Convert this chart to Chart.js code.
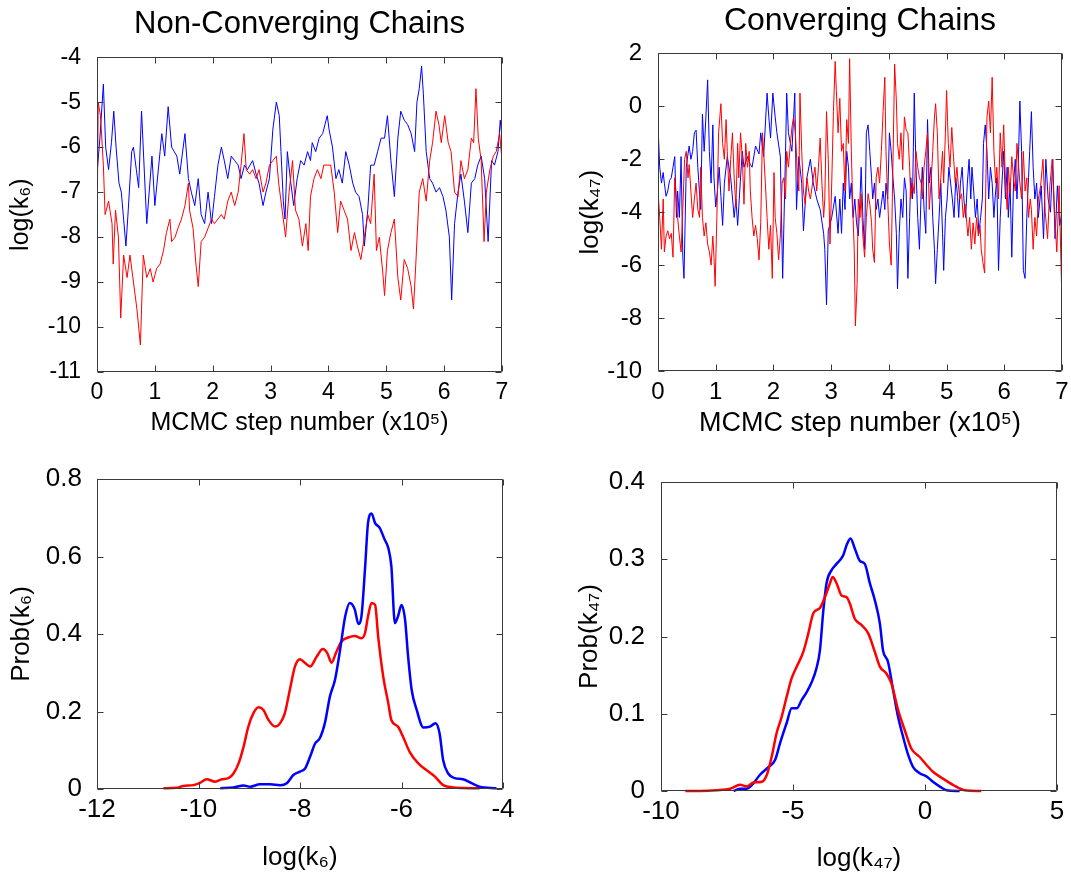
<!DOCTYPE html>
<html>
<head>
<meta charset="utf-8">
<script src="https://cdn.jsdelivr.net/npm/chart.js@4"></script>
<style>
  html, body { margin: 0; padding: 0; background: #fff; }
  #wrap { position: relative; width: 1071px; height: 877px; overflow: hidden; }
  canvas { position: absolute; }
</style>
</head>
<body>
<div id="wrap">
  <canvas id="tl" width="540" height="440" style="left:0;top:0"></canvas>
  <canvas id="tr" width="511" height="440" style="left:560px;top:0"></canvas>
  <canvas id="bl" width="540" height="437" style="left:0;top:440px"></canvas>
  <canvas id="br" width="511" height="437" style="left:560px;top:440px"></canvas>
</div>
<script>
// trace of log(k6), non-converging chains: [step (x1e5), value]
const ncBlue = [[0,-6.6],[0.05,-5.8],[0.11,-4.6],[0.15,-6.0],[0.2,-6.5],[0.25,-5.9],[0.29,-5.2],[0.33,-6.0],[0.38,-6.8],[0.42,-7.0],[0.46,-7.6],[0.5,-8.2],[0.54,-7.4],[0.6,-6.1],[0.63,-6.0],[0.68,-6.5],[0.72,-6.9],[0.77,-5.2],[0.82,-6.6],[0.86,-7.7],[0.95,-6.2],[1.0,-7.3],[1.09,-6.1],[1.12,-5.7],[1.17,-6.2],[1.23,-5.1],[1.29,-6.0],[1.38,-6.2],[1.43,-6.6],[1.52,-5.7],[1.58,-6.7],[1.63,-7.0],[1.69,-7.3],[1.75,-6.7],[1.8,-7.5],[1.86,-7.7],[1.92,-7.0],[1.98,-7.7],[2.03,-7.1],[2.09,-6.4],[2.15,-6.0],[2.2,-6.3],[2.26,-6.7],[2.32,-6.2],[2.38,-6.3],[2.44,-6.4],[2.49,-6.7],[2.55,-6.4],[2.6,-6.5],[2.69,-6.3],[2.75,-6.6],[2.8,-6.8],[2.87,-7.3],[2.92,-7.0],[2.98,-6.7],[3.04,-5.6],[3.1,-5.0],[3.15,-5.3],[3.18,-6.1],[3.22,-7.2],[3.25,-7.6],[3.29,-6.1],[3.35,-6.8],[3.4,-7.3],[3.46,-6.7],[3.52,-6.3],[3.58,-6.4],[3.64,-6.1],[3.69,-6.3],[3.72,-5.9],[3.78,-6.1],[3.84,-5.8],[3.9,-5.7],[3.98,-5.3],[4.01,-5.6],[4.07,-6.0],[4.13,-6.7],[4.18,-6.5],[4.24,-6.8],[4.3,-6.1],[4.36,-6.4],[4.42,-6.8],[4.47,-7.0],[4.53,-7.1],[4.59,-7.5],[4.62,-8.2],[4.68,-7.4],[4.73,-6.4],[4.79,-6.4],[4.85,-6.1],[4.91,-5.8],[4.97,-5.8],[5.02,-5.3],[5.08,-6.3],[5.14,-7.1],[5.2,-5.8],[5.25,-5.2],[5.31,-5.4],[5.37,-5.5],[5.43,-5.7],[5.49,-6.1],[5.53,-5.0],[5.57,-4.7],[5.61,-4.2],[5.64,-4.8],[5.69,-6.1],[5.75,-6.7],[5.8,-6.8],[5.86,-7.0],[5.92,-6.9],[5.98,-7.1],[6.03,-7.4],[6.09,-8.0],[6.13,-9.4],[6.18,-7.7],[6.24,-7.0],[6.29,-6.6],[6.35,-7.2],[6.41,-7.9],[6.47,-6.8],[6.53,-6.7],[6.58,-6.4],[6.64,-6.2],[6.7,-6.7],[6.76,-8.1],[6.82,-6.3],[6.87,-6.4],[6.93,-6.1],[6.97,-5.4],[7.0,-5.8]];
const ncRed = [[0,-8.2],[0.02,-5.0],[0.06,-5.3],[0.11,-6.4],[0.14,-7.5],[0.2,-7.2],[0.26,-7.7],[0.28,-8.6],[0.32,-7.4],[0.37,-8.0],[0.41,-9.8],[0.46,-8.4],[0.52,-8.9],[0.57,-8.4],[0.63,-9.0],[0.69,-9.6],[0.75,-10.4],[0.77,-9.6],[0.8,-8.4],[0.86,-8.9],[0.92,-8.7],[0.97,-9.0],[1.03,-8.7],[1.09,-8.6],[1.15,-8.3],[1.2,-7.9],[1.26,-7.6],[1.29,-8.1],[1.35,-8.0],[1.4,-7.8],[1.46,-7.6],[1.52,-7.3],[1.58,-6.8],[1.6,-7.4],[1.66,-7.8],[1.71,-8.6],[1.75,-9.1],[1.8,-8.1],[1.86,-8.0],[1.92,-7.8],[1.98,-7.6],[2.03,-7.7],[2.09,-7.6],[2.15,-7.5],[2.2,-7.6],[2.26,-7.2],[2.32,-7.0],[2.38,-7.3],[2.44,-7.0],[2.49,-6.4],[2.54,-5.7],[2.58,-6.5],[2.64,-6.6],[2.69,-6.5],[2.75,-6.7],[2.8,-6.5],[2.87,-7.0],[2.92,-6.8],[2.98,-6.4],[3.04,-6.3],[3.1,-6.2],[3.14,-6.8],[3.2,-7.4],[3.26,-8.0],[3.32,-7.0],[3.38,-6.3],[3.43,-7.4],[3.49,-7.6],[3.55,-8.2],[3.61,-7.7],[3.65,-8.3],[3.69,-7.1],[3.75,-6.7],[3.81,-6.5],[3.87,-6.7],[3.92,-6.4],[3.98,-6.4],[4.04,-6.4],[4.1,-7.0],[4.16,-7.9],[4.21,-7.2],[4.27,-7.4],[4.33,-7.6],[4.39,-8.3],[4.45,-7.9],[4.5,-8.2],[4.56,-8.5],[4.62,-8.0],[4.68,-7.5],[4.73,-7.7],[4.79,-6.6],[4.83,-8.3],[4.88,-8.0],[4.94,-8.8],[4.97,-9.3],[5.02,-8.3],[5.08,-7.9],[5.14,-7.6],[5.2,-8.9],[5.25,-9.4],[5.31,-8.5],[5.37,-8.7],[5.43,-9.1],[5.47,-9.6],[5.51,-8.6],[5.57,-7.0],[5.63,-6.7],[5.69,-7.2],[5.75,-6.3],[5.8,-5.9],[5.86,-5.2],[5.91,-5.5],[5.95,-5.9],[6.01,-5.3],[6.07,-5.9],[6.12,-6.1],[6.18,-7.0],[6.24,-7.1],[6.29,-6.3],[6.35,-6.7],[6.41,-6.5],[6.47,-5.8],[6.51,-5.9],[6.55,-4.7],[6.59,-5.8],[6.64,-6.3],[6.69,-8.1],[6.73,-7.0],[6.79,-6.5],[6.85,-6.2],[6.9,-6.1],[6.96,-5.7],[7.0,-6.3]];

// trace of log(k47), converging chains
const cBlue = [[0,-0.7],[0.03,-2.3],[0.06,-2.9],[0.09,-2.5],[0.11,-2.9],[0.14,-3.4],[0.17,-3.2],[0.2,-2.8],[0.23,-2.7],[0.26,-2.3],[0.29,-1.9],[0.32,-4.2],[0.34,-3.2],[0.37,-4.2],[0.4,-1.9],[0.43,-5.7],[0.45,-6.5],[0.49,-2.3],[0.52,-1.8],[0.54,-1.5],[0.57,-2.0],[0.6,-1.7],[0.63,-1.0],[0.66,-0.9],[0.69,-2.3],[0.72,-3.3],[0.74,-3.9],[0.77,-0.3],[0.8,-1.7],[0.83,-0.4],[0.86,1.0],[0.89,-1.7],[0.92,-2.9],[0.95,-0.7],[0.97,-2.7],[1.0,-3.8],[1.03,-3.2],[1.06,-2.3],[1.09,-3.4],[1.12,-4.5],[1.15,-2.9],[1.2,-1.9],[1.26,-2.7],[1.32,-4.2],[1.35,-3.5],[1.38,-4.5],[1.4,-3.8],[1.43,-2.7],[1.46,-1.7],[1.49,-2.3],[1.55,-1.9],[1.6,-2.2],[1.63,-2.3],[1.69,-1.5],[1.75,-1.8],[1.78,-1.0],[1.83,-1.9],[1.89,0.5],[1.92,-0.4],[1.95,-1.2],[1.99,0.5],[2.03,-0.4],[2.06,-1.0],[2.12,-1.9],[2.16,-6.5],[2.21,-1.7],[2.23,0.5],[2.26,-1.0],[2.32,-1.7],[2.37,0.5],[2.4,-3.9],[2.44,-1.9],[2.49,-2.9],[2.52,-4.7],[2.58,-2.7],[2.64,-2.0],[2.69,-2.9],[2.75,-3.5],[2.81,-3.9],[2.87,-4.8],[2.89,-5.4],[2.92,-7.5],[2.95,-4.7],[3.01,-4.2],[3.07,-3.4],[3.12,-4.8],[3.15,-3.5],[3.18,-4.8],[3.21,-2.9],[3.24,-3.9],[3.27,-1.7],[3.3,-2.3],[3.32,-3.5],[3.35,-2.9],[3.38,-4.2],[3.41,-3.5],[3.44,-4.4],[3.47,-4.9],[3.5,-3.5],[3.52,-2.3],[3.55,-4.2],[3.58,-5.4],[3.61,-1.0],[3.64,-0.7],[3.67,-1.7],[3.7,-2.7],[3.72,-3.5],[3.75,-2.9],[3.78,-3.9],[3.81,-3.5],[3.84,-4.2],[3.87,-3.7],[3.9,-3.2],[3.93,-3.9],[3.95,-2.9],[3.98,-3.5],[4.01,-1.0],[4.04,-1.7],[4.07,-2.7],[4.1,-3.5],[4.13,-4.8],[4.15,-6.9],[4.18,-4.8],[4.21,-3.5],[4.24,-4.2],[4.27,-2.7],[4.3,-3.2],[4.33,-6.5],[4.36,-4.2],[4.38,-2.7],[4.41,-3.5],[4.44,0.5],[4.47,-2.3],[4.5,-4.2],[4.53,-5.4],[4.56,-3.2],[4.58,-2.3],[4.61,-3.9],[4.64,-4.8],[4.67,-0.5],[4.7,-2.9],[4.73,-2.3],[4.76,-4.2],[4.79,-5.4],[4.81,-6.7],[4.84,-5.4],[4.87,-4.2],[4.9,-2.9],[4.93,-4.8],[4.95,-6.2],[4.98,-4.2],[5.01,-3.5],[5.04,-2.3],[5.07,-2.9],[5.1,-3.5],[5.13,-4.2],[5.16,-2.7],[5.19,-3.4],[5.21,-4.2],[5.24,-2.9],[5.27,-2.3],[5.3,-3.5],[5.33,-4.2],[5.36,-2.9],[5.39,-2.0],[5.42,-3.5],[5.44,-2.3],[5.47,-3.2],[5.5,-4.2],[5.53,-3.5],[5.56,-4.8],[5.59,-4.2],[5.62,-3.5],[5.64,-1.4],[5.67,-0.7],[5.7,-1.7],[5.73,-3.5],[5.76,-2.3],[5.79,-2.9],[5.82,-4.2],[5.84,-3.5],[5.87,-2.7],[5.9,-6.2],[5.93,-4.2],[5.96,-2.9],[5.99,-1.7],[6.02,-3.5],[6.05,-2.3],[6.07,-4.2],[6.1,-2.9],[6.13,-5.7],[6.16,-2.9],[6.19,-2.0],[6.22,-3.5],[6.24,-2.5],[6.27,0.2],[6.3,-1.7],[6.33,-6.2],[6.36,-6.5],[6.39,-4.2],[6.42,-2.7],[6.44,-1.7],[6.47,-0.2],[6.5,-2.3],[6.53,-3.5],[6.56,-2.9],[6.59,-4.2],[6.64,-3.0],[6.68,-5.0],[6.72,-2.0],[6.76,-3.5],[6.8,-4.0],[6.84,-2.0],[6.88,-5.0],[6.92,-3.0],[6.96,-4.5],[7.0,-4.0]];
const cRed = [[0,-3.2],[0.03,-4.2],[0.06,-5.4],[0.09,-3.5],[0.11,-5.5],[0.14,-4.9],[0.17,-4.7],[0.2,-5.0],[0.23,-4.8],[0.26,-5.7],[0.29,-2.7],[0.32,-3.5],[0.34,-4.2],[0.37,-4.9],[0.4,-5.5],[0.43,-3.9],[0.46,-2.0],[0.49,-1.7],[0.52,-2.7],[0.54,-2.2],[0.57,-3.2],[0.6,-4.2],[0.63,-3.5],[0.66,-2.9],[0.69,-3.9],[0.72,-4.2],[0.74,-2.3],[0.77,-4.2],[0.8,-4.9],[0.83,-4.4],[0.86,-5.2],[0.89,-5.5],[0.92,-6.0],[0.95,-4.9],[0.97,-5.7],[0.99,-6.8],[1.02,-4.2],[1.05,-1.0],[1.09,0.1],[1.12,-1.4],[1.15,-2.0],[1.18,-0.5],[1.2,-1.7],[1.23,-3.2],[1.26,-2.0],[1.29,-1.0],[1.32,-2.7],[1.35,-3.8],[1.38,-1.4],[1.4,-2.7],[1.43,-1.0],[1.46,-1.9],[1.49,-3.7],[1.52,-1.4],[1.55,-2.3],[1.58,-1.7],[1.6,-3.2],[1.63,-4.2],[1.66,-4.9],[1.69,-4.5],[1.72,-5.0],[1.75,-5.8],[1.78,-4.4],[1.81,-1.0],[1.83,-1.7],[1.86,-2.9],[1.89,-4.2],[1.92,-5.4],[1.95,-4.5],[1.98,-6.5],[2.01,-2.5],[2.03,-4.2],[2.06,-4.8],[2.09,-5.8],[2.12,-4.9],[2.15,-2.9],[2.18,-2.7],[2.21,-3.5],[2.23,-1.7],[2.26,-2.3],[2.29,-1.5],[2.32,-0.8],[2.35,-0.4],[2.38,-1.0],[2.41,-2.3],[2.44,-3.2],[2.46,0.5],[2.49,-1.7],[2.52,-3.2],[2.55,-3.7],[2.58,-2.7],[2.61,-3.2],[2.64,-3.5],[2.66,-3.2],[2.69,-2.7],[2.72,-2.3],[2.75,-3.2],[2.78,-2.3],[2.81,-1.2],[2.84,-2.9],[2.87,-4.2],[2.89,-3.5],[2.92,-0.2],[2.95,-2.0],[2.98,-5.2],[3.01,-2.9],[3.04,-0.2],[3.07,1.7],[3.09,0.6],[3.12,-1.0],[3.15,0.3],[3.18,-1.7],[3.21,-1.4],[3.24,-3.2],[3.27,-0.5],[3.3,-1.4],[3.32,1.8],[3.35,-1.7],[3.38,-4.2],[3.4,-5.4],[3.42,-8.3],[3.45,-6.7],[3.47,-3.5],[3.5,-4.2],[3.52,-3.3],[3.55,-4.9],[3.58,-5.7],[3.61,-4.2],[3.64,-3.3],[3.67,-3.7],[3.7,-4.4],[3.72,-5.4],[3.75,-5.9],[3.78,-2.7],[3.81,-2.3],[3.84,-2.9],[3.87,-1.7],[3.9,-0.2],[3.93,1.1],[3.95,-1.7],[3.98,-3.5],[4.01,-5.2],[4.04,-6.0],[4.07,-2.3],[4.1,1.6],[4.13,0.2],[4.15,-1.4],[4.18,-2.0],[4.21,-1.0],[4.24,-2.4],[4.27,-0.4],[4.3,-0.9],[4.33,-1.0],[4.36,-2.3],[4.38,-3.5],[4.41,-2.9],[4.44,-3.3],[4.47,-1.7],[4.5,-2.3],[4.53,-2.7],[4.56,-2.9],[4.58,-3.5],[4.61,-2.3],[4.64,-1.7],[4.67,-1.0],[4.7,-3.9],[4.73,-2.9],[4.76,-1.7],[4.79,-0.4],[4.81,0.1],[4.84,-1.0],[4.87,-3.5],[4.9,-2.7],[4.93,-1.7],[4.95,-2.9],[4.98,-1.0],[5.0,0.6],[5.03,-1.4],[5.06,-2.3],[5.09,-0.8],[5.12,-1.9],[5.15,-2.9],[5.18,-2.3],[5.2,-2.9],[5.23,-3.5],[5.26,-3.3],[5.29,-4.2],[5.32,-3.7],[5.35,-4.4],[5.37,-4.9],[5.4,-4.2],[5.43,-5.4],[5.46,-4.4],[5.49,-5.2],[5.52,-4.2],[5.55,-4.9],[5.58,-4.5],[5.6,-5.4],[5.63,-5.9],[5.66,-6.3],[5.68,-2.9],[5.7,-0.4],[5.73,0.2],[5.76,-1.0],[5.79,1.1],[5.82,-1.7],[5.85,-2.9],[5.87,-2.3],[5.9,-3.5],[5.93,-1.0],[5.96,-2.3],[5.99,-0.7],[6.02,-2.9],[6.05,-3.9],[6.07,-2.3],[6.1,-3.3],[6.13,-1.9],[6.16,-2.7],[6.19,-3.2],[6.22,-1.4],[6.25,-2.3],[6.27,-2.9],[6.3,-3.5],[6.33,-1.7],[6.36,-3.2],[6.39,-2.7],[6.42,-4.2],[6.45,-3.5],[6.47,-3.9],[6.5,-5.4],[6.53,-4.2],[6.56,-4.9],[6.59,-3.5],[6.63,-3.0],[6.67,-2.0],[6.71,-4.0],[6.75,-5.0],[6.79,-3.0],[6.83,-2.0],[6.87,-4.0],[6.91,-5.5],[6.95,-3.0],[7.0,-7.5]];

// estimated densities: [log k, prob]
const k6Red = [[-10.69,0.002],[-10.43,0.003],[-10.3,0.008],[-10.1,0.01],[-9.97,0.016],[-9.84,0.025],[-9.67,0.019],[-9.54,0.025],[-9.41,0.028],[-9.31,0.04],[-9.21,0.066],[-9.11,0.11],[-9.02,0.16],[-8.92,0.195],[-8.82,0.211],[-8.72,0.204],[-8.62,0.178],[-8.49,0.161],[-8.39,0.17],[-8.3,0.195],[-8.2,0.256],[-8.1,0.316],[-8.0,0.335],[-7.9,0.325],[-7.8,0.316],[-7.67,0.342],[-7.55,0.361],[-7.46,0.35],[-7.38,0.326],[-7.28,0.355],[-7.18,0.381],[-7.05,0.391],[-6.92,0.395],[-6.79,0.389],[-6.72,0.402],[-6.66,0.445],[-6.59,0.48],[-6.52,0.475],[-6.46,0.394],[-6.36,0.29],[-6.26,0.221],[-6.2,0.178],[-6.07,0.161],[-5.97,0.135],[-5.84,0.096],[-5.67,0.066],[-5.51,0.049],[-5.34,0.032],[-5.18,0.01],[-4.98,0.004],[-4.46,0.002]];
const k6Blue = [[-9.57,0.002],[-9.31,0.004],[-9.11,0.009],[-8.98,0.006],[-8.79,0.012],[-8.59,0.012],[-8.39,0.01],[-8.26,0.015],[-8.13,0.036],[-8.0,0.045],[-7.9,0.053],[-7.8,0.084],[-7.7,0.118],[-7.61,0.131],[-7.51,0.17],[-7.41,0.239],[-7.31,0.282],[-7.21,0.359],[-7.11,0.445],[-7.02,0.48],[-6.92,0.463],[-6.85,0.426],[-6.79,0.445],[-6.72,0.566],[-6.66,0.686],[-6.59,0.711],[-6.52,0.686],[-6.43,0.674],[-6.33,0.643],[-6.26,0.622],[-6.2,0.575],[-6.13,0.428],[-6.07,0.445],[-6.0,0.475],[-5.93,0.437],[-5.87,0.342],[-5.8,0.256],[-5.7,0.204],[-5.57,0.159],[-5.44,0.161],[-5.33,0.17],[-5.25,0.144],[-5.18,0.075],[-5.08,0.04],[-4.95,0.028],[-4.79,0.025],[-4.62,0.015],[-4.46,0.006],[-4.13,0.002]];
const k47Red = [[-9.08,0],[-8.51,0],[-7.88,0.001],[-7.38,0.003],[-7.0,0.008],[-6.75,0.006],[-6.5,0.011],[-6.18,0.012],[-5.99,0.021],[-5.81,0.044],[-5.62,0.075],[-5.43,0.096],[-5.24,0.122],[-5.05,0.146],[-4.86,0.161],[-4.61,0.18],[-4.42,0.204],[-4.23,0.23],[-3.98,0.237],[-3.79,0.251],[-3.6,0.269],[-3.5,0.277],[-3.35,0.269],[-3.16,0.253],[-2.97,0.251],[-2.85,0.243],[-2.66,0.223],[-2.41,0.215],[-2.15,0.204],[-1.9,0.18],[-1.71,0.161],[-1.46,0.152],[-1.27,0.139],[-1.02,0.105],[-0.77,0.079],[-0.52,0.055],[-0.2,0.044],[0.05,0.034],[0.3,0.025],[0.68,0.016],[1.06,0.008],[1.5,0.001],[2.13,0]];
const k47Blue = [[-7.25,0],[-7.0,0.003],[-6.75,0.003],[-6.5,0.01],[-6.25,0.021],[-5.93,0.031],[-5.68,0.04],[-5.49,0.062],[-5.24,0.088],[-5.05,0.107],[-4.86,0.107],[-4.67,0.118],[-4.48,0.128],[-4.29,0.141],[-4.11,0.159],[-3.98,0.182],[-3.85,0.234],[-3.73,0.269],[-3.54,0.286],[-3.35,0.294],[-3.1,0.305],[-2.95,0.32],[-2.82,0.327],[-2.66,0.314],[-2.47,0.298],[-2.28,0.294],[-2.09,0.269],[-1.9,0.247],[-1.71,0.217],[-1.59,0.182],[-1.4,0.167],[-1.21,0.131],[-1.02,0.096],[-0.83,0.07],[-0.64,0.047],[-0.45,0.031],[-0.2,0.023],[0.05,0.019],[0.3,0.012],[0.55,0.006],[0.81,0.001],[1.31,0]];

const RED = '#ff0000';
const BLUE = '#0000ff';

Chart.defaults.font.family = '"Liberation Sans", Arial, sans-serif';
Chart.defaults.color = '#000';
Chart.defaults.animation = false;

// matlab style box with inward ticks on all sides
const boxTicks = {
  id: 'boxTicks',
  afterDraw(chart) {
    const { ctx, chartArea: a, scales } = chart;
    const L = Math.round(a.left) + 0.5, R = Math.round(a.right) - 0.5;
    const T = Math.round(a.top) + 0.5, B = Math.round(a.bottom) - 0.5;
    const len = 6;
    ctx.save();
    ctx.strokeStyle = '#3a3a3a';
    ctx.lineWidth = 1;
    ctx.beginPath();
    ctx.rect(L, T, R - L, B - T);
    scales.x.ticks.forEach(t => {
      const px = Math.round(scales.x.getPixelForValue(t.value)) + 0.5;
      ctx.moveTo(px, B); ctx.lineTo(px, B - len);
      ctx.moveTo(px, T); ctx.lineTo(px, T + len);
    });
    scales.y.ticks.forEach(t => {
      const py = Math.round(scales.y.getPixelForValue(t.value)) + 0.5;
      ctx.moveTo(L, py); ctx.lineTo(L + len, py);
      ctx.moveTo(R, py); ctx.lineTo(R - len, py);
    });
    ctx.stroke();
    ctx.restore();
  }
};

const toXY = arr => arr.map(p => ({ x: p[0], y: p[1] }));
const fmt = v => String(Number(v.toFixed(2)));

function makeChart(id, o) {
  const datasets = o.series.map(s => ({
    data: toXY(s.data),
    borderColor: s.color,
    borderWidth: o.lineWidth,
    pointRadius: 0,
    tension: o.smooth ? 0.3 : 0,
    cubicInterpolationMode: o.smooth ? 'monotone' : 'default',
    clip: o.smooth ? 3 : 0,
    fill: false
  }));
  return new Chart(document.getElementById(id), {
    type: 'line',
    data: { datasets },
    plugins: [boxTicks],
    options: {
      responsive: false,
      layout: { padding: o.padding },
      plugins: {
        legend: { display: false },
        tooltip: { enabled: false },
        title: {
          display: !!o.title,
          text: o.title,
          fullSize: false,
          font: { size: o.titleSize || 30, weight: 'normal' },
          padding: { top: 0, bottom: o.titleGap || 0 }
        }
      },
      scales: {
        x: {
          type: 'linear',
          min: o.x.min, max: o.x.max,
          grid: { display: false },
          border: { display: false },
          ticks: { stepSize: o.x.step, font: { size: o.tickSize }, padding: o.x.pad, maxRotation: 0, callback: fmt },
          title: { display: true, text: o.x.title, font: { size: o.x.titleSize }, padding: { top: 0, bottom: o.x.titlePad } },
          afterFit: s => { s.height = o.x.height; }
        },
        y: {
          type: 'linear',
          min: o.y.min, max: o.y.max,
          grid: { display: false },
          border: { display: false },
          ticks: { stepSize: o.y.step, font: { size: o.tickSize }, padding: o.y.pad, callback: fmt },
          title: { display: true, text: o.y.title, font: { size: o.y.titleSize }, padding: { top: o.y.titlePad, bottom: 0 } },
          afterFit: s => { s.width = o.y.width; }
        }
      }
    }
  });
}

makeChart('tl', {
  title: 'Non-Converging Chains', titleSize: 31, titleGap: 14,
  padding: { top: 6, right: 38, bottom: 0, left: 0 },
  lineWidth: 1, tickSize: 23,
  series: [{ data: ncRed, color: RED }, { data: ncBlue, color: BLUE }],
  x: { min: 0, max: 7, step: 1, pad: -1, title: 'MCMC step number (x10\u2075)', titleSize: 25, titlePad: 2, height: 68 },
  y: { min: -11, max: -4, step: 1, pad: 8, title: 'log(k\u2086)', titleSize: 25, titlePad: 6, width: 97 }
});

makeChart('tr', {
  title: 'Converging Chains', titleSize: 32, titleGap: 13,
  padding: { top: 2, right: 9, bottom: 0, left: 0 },
  lineWidth: 1, tickSize: 24,
  series: [{ data: cRed, color: RED }, { data: cBlue, color: BLUE }],
  x: { min: 0, max: 7, step: 1, pad: -1, title: 'MCMC step number (x10\u2075)', titleSize: 27, titlePad: 0, height: 69 },
  y: { min: -10, max: 2, step: 2, pad: 8, title: 'log(k\u2084\u2087)', titleSize: 26, titlePad: 15, width: 98 }
});

makeChart('bl', {
  padding: { top: 39, right: 37, bottom: 0, left: 0 },
  lineWidth: 2.5, tickSize: 26, smooth: true,
  series: [{ data: k6Blue, color: BLUE }, { data: k6Red, color: RED }],
  x: { min: -12, max: -4, step: 2, pad: -3, title: 'log(k\u2086)', titleSize: 26, titlePad: 4, height: 88 },
  y: { min: 0, max: 0.8, step: 0.2, pad: 7, title: 'Prob(k\u2086)', titleSize: 26, titlePad: 6, width: 97 }
});

makeChart('br', {
  padding: { top: 42, right: 14, bottom: 0, left: 0 },
  lineWidth: 2.5, tickSize: 26, smooth: true,
  series: [{ data: k47Red, color: RED }, { data: k47Blue, color: BLUE }],
  x: { min: -10, max: 5, step: 5, pad: -3, title: 'log(k\u2084\u2087)', titleSize: 26, titlePad: 3, height: 86 },
  y: { min: 0, max: 0.4, step: 0.1, pad: 8, title: 'Prob(k\u2084\u2087)', titleSize: 26, titlePad: 14, width: 101 }
});
</script>
</body>
</html>
